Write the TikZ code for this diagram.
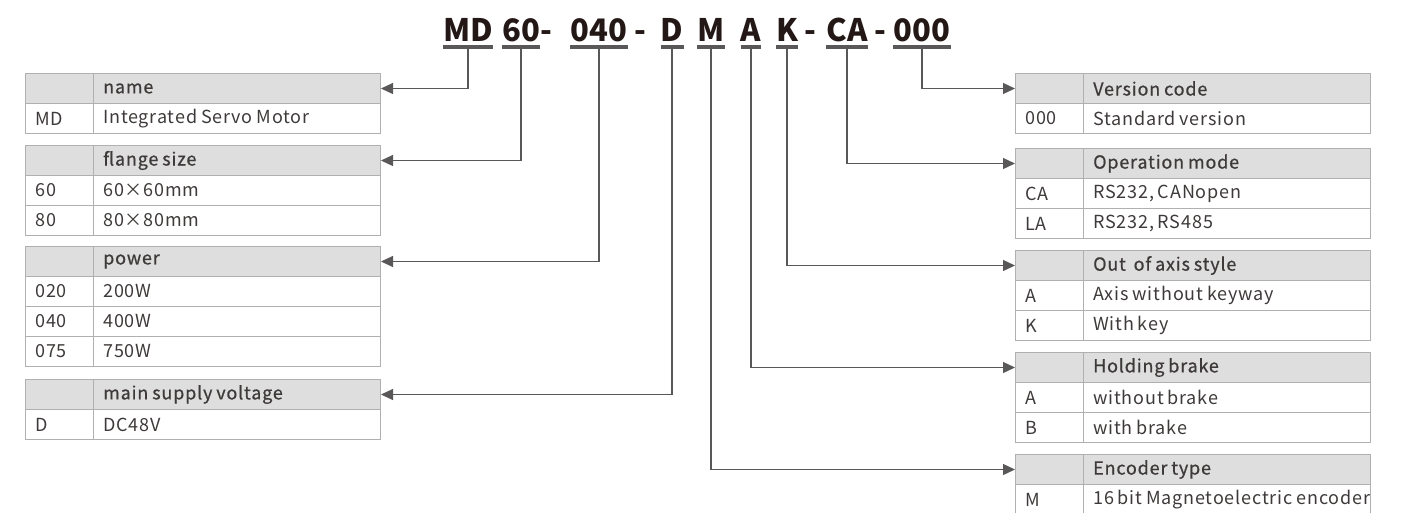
\documentclass[tikz,border=0pt]{standalone}
\usepackage{fontspec}
\setmainfont{Noto Sans CJK SC}
\newfontfamily\cellfont[LetterSpace=4.5, WordSpace=0.8]{Noto Sans CJK SC}
\newfontfamily\hdrfont[LetterSpace=4.5, WordSpace=0.8, FakeBold=0.6]{Noto Sans CJK SC}
\usetikzlibrary{arrows.meta}
\definecolor{hdrgray}{HTML}{DEDEDE}
\definecolor{rulegray}{HTML}{B0B0B0}
\definecolor{txtgray}{HTML}{3E3A39}
\definecolor{wiregray}{HTML}{595757}
\definecolor{codeblack}{HTML}{231815}

\tikzset{
  hdrbox/.style={draw=rulegray, fill=hdrgray, line width=1pt, minimum width=355pt, minimum height=30pt, anchor=north west, inner sep=0pt},
  rowbox/.style={draw=rulegray, line width=1pt, minimum width=355pt, minimum height=30pt, anchor=north west, inner sep=0pt},
  celltext/.style={anchor=west, text=txtgray, inner sep=0pt, font=\cellfont\fontsize{18}{18}\selectfont},
  hdrtext/.style={celltext, font=\hdrfont\fontsize{18}{18}\selectfont},
  code/.style={anchor=base, text=codeblack, inner sep=0pt, font=\bfseries\fontsize{31}{31}\selectfont},
  bar/.style={draw=wiregray, line width=3.5pt},
  wire/.style={draw=wiregray, line width=1.2pt, -{Triangle[length=12pt,width=11pt]}}
}

% one table: name, x, y top, header, rows code/desc
\newcommand{\codetable}[5]{
  \node[hdrbox] (#1) at (#2,#3) {};
  \node[hdrtext] at ([xshift=78pt]#1.west) {#4};
  \draw[draw=rulegray, line width=1pt] (#2+68,#3) -- ++(0,30);
  \foreach \c/\d [count=\i] in {#5}
  {
    \node[rowbox] (#1r\i) at (#2,#3+30*\i) {};
    \node[celltext] at ([xshift=10pt]#1r\i.west) {\c};
    \node[celltext] at ([xshift=78pt]#1r\i.west) {\d};
    \draw[draw=rulegray, line width=1pt] (#2+68,#3+30*\i) -- ++(0,30);
  }
}

\begin{document}
\begin{tikzpicture}[x=1pt, y=-1pt]
\useasboundingbox (0,0) rectangle (1409,512);

% model code
\foreach \seg/\x in {MD/468, 60/521, 040/599, D/672, M/711, A/751, K/787, CA/847, 000/922}
{
  \node[code] (s\seg) at (\x,41) {\seg};
  \draw[bar] ([yshift=-6pt]s\seg.base west) -- ([yshift=-6pt]s\seg.base east);
  \coordinate (c\seg) at (\x,48);
}
\foreach \x [count=\i] in {546, 640, 810, 880}
  \node[code] (dash\i) at (\x,41) {-};

% left tables
\codetable{tname}{25}{73}{name}{MD/Integrated Servo Motor}
\codetable{tflange}{25}{145}{flange size}{60/60×60mm, 80/80×80mm}
\codetable{tpower}{25}{246}{power}{020/200W, 040/400W, 075/750W}
\codetable{tvolt}{25}{379}{main supply voltage}{D/DC48V}

% right tables
\codetable{tver}{1015}{73}{Version code}{000/Standard version}
\codetable{tmode}{1015}{148}{Operation mode}{CA/{RS232, CANopen}, LA/{RS232, RS485}}
\codetable{taxis}{1015}{250}{Out\ \ of axis style}{A/Axis without keyway, K/With key}
\codetable{tbrake}{1015}{352}{Holding brake}{A/without brake, B/with brake}
\codetable{tenc}{1015}{454}{Encoder type}{M/16 bit Magnetoelectric encoder}

% connectors
\draw[wire] (cMD) |- (tname.east);
\draw[wire] (c60) |- (tflange.east);
\draw[wire] (c040) |- (tpower.east);
\draw[wire] (cD) |- (tvolt.east);
\draw[wire] (c000) |- (tver.west);
\draw[wire] (cCA) |- (tmode.west);
\draw[wire] (cK) |- (taxis.west);
\draw[wire] (cA) |- (tbrake.west);
\draw[wire] (cM) |- (tenc.west);
\end{tikzpicture}
\end{document}
